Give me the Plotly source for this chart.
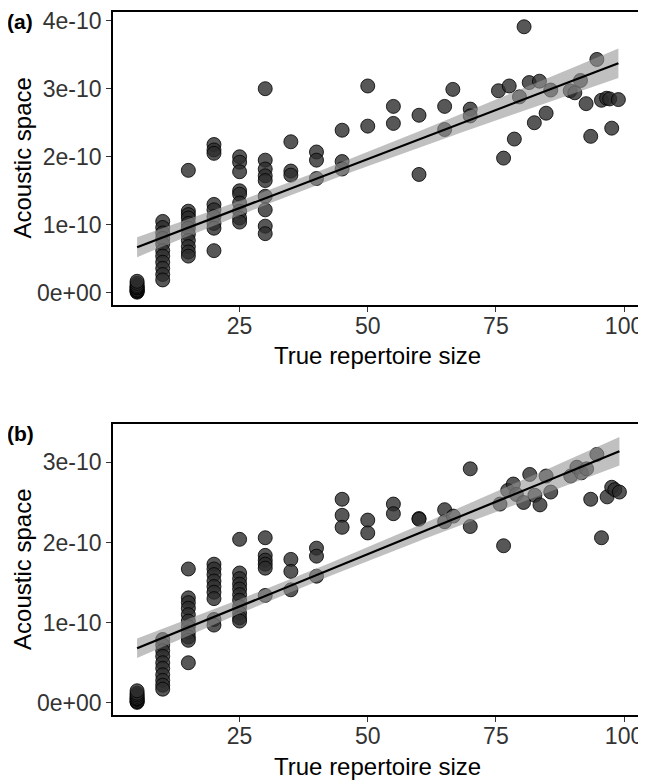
import numpy as np
import plotly.graph_objects as go

# ---------------- data (y values in units of 1e-10) ----------------
# Panel (a)
a_x = ([5]*11 + [10]*11 + [15]*11 + [20]*9 + [25]*9 + [30]*9 + [35]*3 + [40]*3 + [45]*3 +
       [50]*2 + [55]*2 + [60]*2 + [65]*2 + [66.6] + [70]*2 +
       [75.5, 76.5, 77.6, 78.6, 79.6, 80.5, 81.5, 82.5, 83.5, 84.8, 85.7, 89.5, 90.4,
        91.5, 92.6, 93.5, 94.7, 95.6, 96.6, 97.2, 97.6, 98.9])
a_y = ([0.01, 0.02, 0.03, 0.04, 0.05, 0.07, 0.08, 0.09, 0.11, 0.14, 0.17] +
       [1.05, 0.96, 0.88, 0.80, 0.72, 0.62, 0.54, 0.45, 0.36, 0.27, 0.19] +
       [1.80, 1.20, 1.15, 1.10, 1.02, 0.95, 0.86, 0.77, 0.68, 0.60, 0.54] +
       [2.18, 2.10, 2.05, 1.30, 1.22, 1.12, 1.02, 0.95, 0.62] +
       [2.00, 1.92, 1.78, 1.50, 1.45, 1.32, 1.20, 1.10, 1.04] +
       [3.00, 1.95, 1.82, 1.72, 1.65, 1.42, 1.22, 0.98, 0.87] +
       [2.22, 1.79, 1.73] + [2.07, 1.95, 1.68] + [2.39, 1.93, 1.82] +
       [3.04, 2.45] + [2.74, 2.49] + [2.61, 1.74] + [2.74, 2.40] + [2.99] + [2.70, 2.60] +
       [2.97, 1.98, 3.04, 2.26, 2.88, 3.91, 3.09, 2.50, 3.11, 2.64, 2.98, 2.97, 2.94,
        3.12, 2.78, 2.30, 3.43, 2.83, 2.86, 2.85, 2.42, 2.84])

# Panel (b)
b_x = ([5]*10 + [10]*10 + [15]*11 + [20]*9 + [25]*11 + [30]*6 + [35]*3 + [40]*3 + [45]*3 +
       [50]*2 + [55]*2 + [60]*2 + [65]*2 + [66.7] + [70]*2 +
       [75.8, 76.5, 77.3, 78.4, 79.0, 80.4, 81.6, 82.6, 83.6, 84.8, 85.7, 89.6, 90.8,
        91.7, 92.7, 93.5, 94.7, 95.6, 96.7, 97.6, 98.2, 99.1])
b_y = ([0.005, 0.015, 0.02, 0.04, 0.05, 0.06, 0.08, 0.10, 0.12, 0.15] +
       [0.79, 0.72, 0.65, 0.58, 0.50, 0.43, 0.35, 0.28, 0.22, 0.17] +
       [1.67, 1.31, 1.25, 1.18, 1.10, 1.02, 0.95, 0.88, 0.82, 0.78, 0.50] +
       [1.73, 1.67, 1.60, 1.52, 1.45, 1.38, 1.30, 1.04, 0.97] +
       [2.04, 1.62, 1.55, 1.48, 1.42, 1.35, 1.28, 1.20, 1.12, 1.06, 1.02] +
       [2.06, 1.84, 1.78, 1.73, 1.68, 1.34] +
       [1.79, 1.64, 1.41] + [1.93, 1.83, 1.58] + [2.54, 2.34, 2.19] +
       [2.28, 2.12] + [2.48, 2.36] + [2.30, 2.29] + [2.41, 2.26] + [2.33] + [2.92, 2.20] +
       [2.48, 1.96, 2.65, 2.73, 2.60, 2.50, 2.85, 2.59, 2.47, 2.83, 2.63, 2.83, 2.94,
        2.87, 2.92, 2.54, 3.10, 2.06, 2.57, 2.69, 2.66, 2.63])

x_ticks = [25, 50, 75, 100]
a_yticks = [0, 1, 2, 3, 4]
a_yticklabels = ["0e+00", "1e-10", "2e-10", "3e-10", "4e-10"]
b_yticks = [0, 1, 2, 3]
b_yticklabels = ["0e+00", "1e-10", "2e-10", "3e-10"]
SCALE = 1e-10

# ---------------- helpers ----------------
def lm_fit(x, y):
    x = np.asarray(x, float); y = np.asarray(y, float)
    n = len(x)
    b1, b0 = np.polyfit(x, y, 1)
    res = y - (b0 + b1 * x)
    s = np.sqrt(np.sum(res**2) / (n - 2))
    xg = np.linspace(x.min(), x.max(), 80)
    fit = b0 + b1 * xg
    se = s * np.sqrt(1/n + (xg - x.mean())**2 / np.sum((x - x.mean())**2))
    t = 1.99
    return xg, fit, fit - t*se, fit + t*se

fig = go.Figure()
FONT = "Liberation Sans, Arial, sans-serif"

def add_panel(x, y, xa, ya):
    xs = np.asarray(x, float); ys = np.asarray(y, float) * SCALE
    fig.add_trace(go.Scatter(x=xs, y=ys, mode="markers", xaxis=xa, yaxis=ya,
                             marker=dict(size=14, color="rgba(45,45,45,0.8)",
                                         line=dict(color="rgba(0,0,0,0.8)", width=1)),
                             showlegend=False, hoverinfo="skip"))
    xg, fit, lo, hi = lm_fit(x, y)
    fig.add_trace(go.Scatter(x=np.concatenate([xg, xg[::-1]]),
                             y=np.concatenate([hi, lo[::-1]]) * SCALE,
                             fill="toself", fillcolor="rgba(150,150,150,0.6)",
                             line=dict(width=0), mode="lines", xaxis=xa, yaxis=ya,
                             showlegend=False, hoverinfo="skip"))
    fig.add_trace(go.Scatter(x=xg, y=fit * SCALE, mode="lines", xaxis=xa, yaxis=ya,
                             line=dict(color="black", width=2.2),
                             showlegend=False, hoverinfo="skip"))

add_panel(a_x, a_y, "x", "y")
add_panel(b_x, b_y, "x2", "y2")

# the page body adds an 8px offset; positions below are reference pixels minus 8
OFF = 8
W, H = 646, 782
L, R = 113 - OFF, 643 - OFF
a_top, a_bot = 8 - OFF, 303 - OFF
b_top, b_bot = 423 - OFF, 716 - OFF

axis_common = dict(showline=True, linecolor="black", linewidth=1.6, mirror=True,
                   ticks="outside", ticklen=5, tickwidth=1.3, tickcolor="#333",
                   showgrid=False, zeroline=False, ticklabeloverflow="allow",
                   tickfont=dict(family=FONT, size=23, color="#333"))

fig.update_layout(
    width=W, height=H, margin=dict(l=0, r=0, t=0, b=0),
    paper_bgcolor="white", plot_bgcolor="white",
    xaxis=dict(domain=[L/W, R/W], range=[0.3, 103.7], anchor="y", ticklabelstandoff=-6,
               tickvals=x_ticks, ticktext=[str(v) for v in x_ticks], **axis_common),
    yaxis=dict(domain=[1-a_bot/H, 1-a_top/H], range=[-0.18e-10, 4.127e-10], anchor="x",
               tickvals=[v*SCALE for v in a_yticks], ticktext=a_yticklabels, **axis_common),
    xaxis2=dict(domain=[L/W, R/W], range=[0.3, 103.7], anchor="y2", ticklabelstandoff=-6,
                tickvals=x_ticks, ticktext=[str(v) for v in x_ticks], **axis_common),
    yaxis2=dict(domain=[1-b_bot/H, 1-b_top/H], range=[-0.158e-10, 3.475e-10], anchor="x2",
                tickvals=[v*SCALE for v in b_yticks], ticktext=b_yticklabels, **axis_common),
)

ann = []
for (lab, yc) in [("(a)", 18), ("(b)", 432)]:
    ann.append(dict(text="<b>" + lab + "</b>", x=(5 - OFF)/W, y=1-(yc-OFF)/H,
                    xref="paper", yref="paper",
                    xanchor="left", yanchor="middle", showarrow=False,
                    font=dict(family=FONT, size=21, color="black")))
for (yc) in [354, 767]:
    ann.append(dict(text="True repertoire size", x=((113+643)/2 - OFF)/W, y=1-(yc-OFF)/H,
                    xref="paper", yref="paper",
                    xanchor="center", yanchor="middle", showarrow=False,
                    font=dict(family=FONT, size=24, color="black")))
for (yc) in [(8+303)/2, (423+716)/2]:
    ann.append(dict(text="Acoustic space", x=(23 - OFF)/W, y=1-(yc-OFF)/H,
                    xref="paper", yref="paper",
                    xanchor="center", yanchor="middle", showarrow=False, textangle=-90,
                    font=dict(family=FONT, size=24, color="black")))
fig.update_layout(annotations=ann)

fig.write_html("out.html")
